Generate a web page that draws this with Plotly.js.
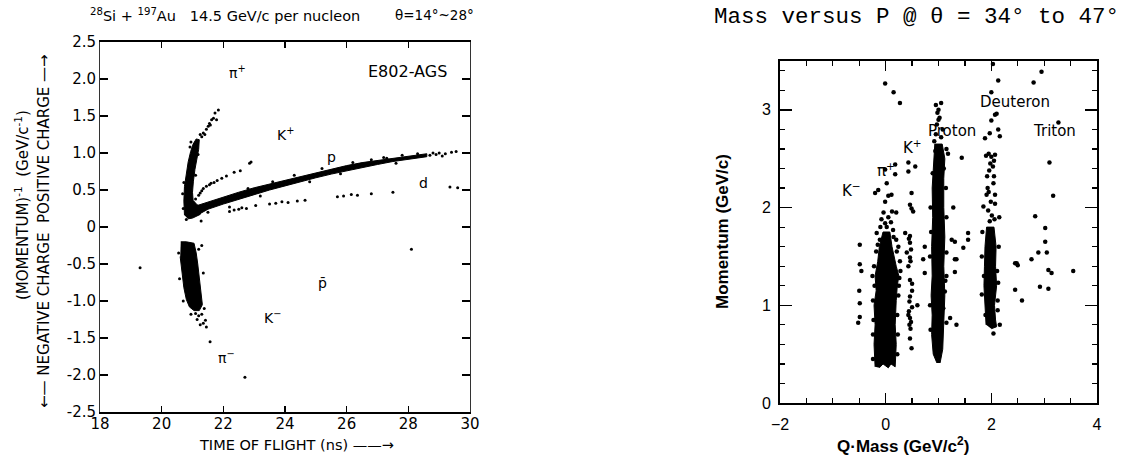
<!DOCTYPE html>
<html>
<head>
<meta charset="utf-8">
<script src="https://cdn.plot.ly/plotly-3.0.1.min.js"></script>
<style>html,body{margin:0;padding:0;background:#fff;}#chart{width:1122px;height:456px;}</style>
</head>
<body>
<div id="chart"></div>
<script>
// ---------------- LEFT PANEL DATA (time of flight vs 1/p) ----------------
const leftXTickVals = [18, 20, 22, 24, 26, 28, 30];
const leftXTickText = ["18", "20", "22", "24", "26", "28", "30"];
const leftYTickVals = [2.5, 2.0, 1.5, 1.0, 0.5, 0, -0.5, -1.0, -1.5, -2.0, -2.5];
const leftYTickText = ["2.5", "2.0", "1.5", "1.0", "0.5", "0", "-0.5", "-1.0", "-1.5", "-2.0", "-2.5"];

// dense pi+ band outline
const piPlusBandX = [20.74,20.72,20.74,20.80,20.86,20.94,21.02,21.12,21.22,21.20,21.14,21.08,21.03,21.00,21.02,21.15,21.30,21.25,21.00,20.85];
const piPlusBandY = [0.16,0.35,0.55,0.72,0.88,1.02,1.12,1.19,1.18,1.05,0.92,0.78,0.62,0.47,0.36,0.30,0.27,0.17,0.12,0.11];
// scattered pi+ points
const piPlusX = [21.30,21.35,21.45,21.51,21.55,21.62,21.68,21.73,21.78,21.84,21.40,21.25,20.95,21.58,20.70,20.72,20.68,21.10,21.18,20.92,20.80,21.28];
const piPlusY = [1.22,1.27,1.32,1.36,1.40,1.45,1.47,1.54,1.45,1.58,1.25,1.25,1.15,1.38,0.25,0.60,0.45,0.70,0.98,1.08,0.10,0.08];
// kaon+ points
const kPlusX = [21.10,21.20,21.25,21.30,21.35,21.45,21.55,21.60,21.70,21.80,21.95,22.10,22.35,22.55,22.85,22.90];
const kPlusY = [0.38,0.43,0.46,0.49,0.52,0.55,0.57,0.59,0.60,0.63,0.66,0.69,0.74,0.76,0.86,0.88];
// dense proton band outline
const protonBandX = [21.0,21.5,22.0,22.5,23.0,23.5,24.0,24.5,25.0,25.5,26.0,26.5,27.0,27.5,28.0,28.6,
                     28.6,28.0,27.5,27.0,26.5,26.0,25.5,25.0,24.5,24.0,23.5,23.0,22.5,22.0,21.5,21.2,21.0];
const protonBandY = [0.27,0.34,0.41,0.47,0.53,0.58,0.64,0.69,0.74,0.79,0.83,0.87,0.90,0.93,0.96,0.99,
                     0.95,0.92,0.885,0.845,0.805,0.765,0.715,0.665,0.615,0.555,0.50,0.44,0.38,0.31,0.24,0.17,0.14];
// sparse / edge proton points
const protonX = [26.8,27.3,27.8,28.3,28.7,28.8,28.9,29.0,29.1,29.2,29.4,29.55,21.5,22.2,22.8,23.6,24.3,25.2,26.2,27.2,23.2,24.8,25.8,27.6];
const protonY = [0.91,0.93,0.97,0.99,0.97,1.00,0.98,1.00,0.96,0.99,1.01,1.02,0.20,0.27,0.52,0.61,0.70,0.79,0.87,0.94,0.42,0.61,0.72,0.86];
// deuteron points
const deutX = [22.20,22.35,22.50,22.60,22.75,23.05,23.50,23.70,23.90,24.10,24.40,24.65,25.70,25.90,26.15,26.35,26.80,27.50,29.35,29.60];
const deutY = [0.21,0.23,0.24,0.26,0.25,0.29,0.31,0.32,0.34,0.33,0.35,0.36,0.41,0.42,0.44,0.43,0.45,0.47,0.54,0.53];
// dense pi- band outline
const piMinusBandX = [20.62,20.80,21.05,21.12,21.17,21.22,21.28,21.32,21.22,21.05,20.90,20.80,20.72,20.66,20.60];
const piMinusBandY = [-0.20,-0.20,-0.22,-0.35,-0.50,-0.70,-0.90,-1.05,-1.13,-1.13,-1.08,-0.98,-0.82,-0.60,-0.40];
// scattered negative points
const negX = [21.10,21.20,21.30,21.35,21.42,21.45,21.25,21.15,21.57,19.30,22.70,28.10,20.55,20.58,21.30,21.35,20.70,21.38,21.20,20.95];
const negY = [-1.17,-1.20,-1.18,-1.30,-1.26,-1.35,-1.32,-1.25,-1.55,-0.55,-2.03,-0.30,-0.35,-0.70,-0.25,-0.62,-1.00,-1.10,-0.30,-1.18];

const leftLabels = ["π<sup>+</sup>", "K<sup>+</sup>", "p", "d", "π<sup>−</sup>", "K<sup>−</sup>", "p\u0304"];
const leftLabelX = [22.45, 24.0, 25.5, 28.5, 22.1, 23.6, 25.2];
const leftLabelY = [2.1, 1.25, 0.95, 0.6, -1.76, -1.22, -0.76];

// ---------------- RIGHT PANEL DATA (Q*mass vs momentum) ----------------
const rightXTickVals = [-2, 0, 2, 4];
const rightYTickVals = [0, 1, 2, 3];

const piBandX = [-0.20,-0.22,-0.20,-0.22,-0.18,-0.20,-0.15,-0.12,-0.05, 0.08,0.12,0.16,0.20,0.25,0.22,0.20,0.18,0.20,0.18,0.10,0.05,-0.05,-0.12];
const piBandY = [0.37,0.60,0.80,1.00,1.15,1.30,1.45,1.60,1.75, 1.75,1.60,1.48,1.40,1.30,1.20,1.05,0.80,0.60,0.37,0.40,0.36,0.40,0.36];
const piX = [-0.01,0.15,0.27,0.18,-0.01,0.18,0.02,-0.20,-0.14,0.05,0.11,-0.01,-0.04,0.12,0.20,-0.01,0.02,-0.17,0.14,0.20,-0.11,0.00,0.05,-0.08,0.26,0.25,-0.25,-0.24,0.22,-0.24,0.22,
             -0.24,-0.23,0.23,0.24,0.28,-0.22,0.21,-0.15,0.15,-0.10,0.10,-0.18,0.24,0.27,-0.21];
const piY = [3.27,3.18,3.07,2.44,2.39,2.34,2.25,2.15,2.18,2.12,2.13,2.06,1.95,1.96,1.95,1.84,1.80,1.74,1.77,1.67,1.67,1.70,1.90,1.88,1.28,1.20,1.30,1.05,0.90,0.70,0.50,
             0.45,0.85,0.70,1.10,1.35,1.40,1.55,1.62,1.70,1.80,1.85,1.55,1.60,1.45,1.20];
const kMinusX = [-0.49,-0.49,-0.46,-0.50,-0.49,-0.49,-0.52];
const kMinusY = [1.62,1.42,1.35,1.15,1.02,0.88,0.82];
const kPlusRX = [0.43,0.56,0.43,0.49,0.46,0.52,0.49,0.37,0.46,0.46,0.40,0.46,0.74,0.71,0.74,0.46,0.50,0.43,0.47,0.48,0.44,0.46,0.45,0.43,0.46,0.48,0.45,0.47,0.46,0.49,0.50,0.44,0.50,0.60];
const kPlusRY = [2.46,2.42,2.37,2.15,2.03,1.96,1.99,1.74,1.71,1.64,1.54,1.49,1.60,1.47,1.33,1.26,1.22,1.40,1.45,1.57,1.68,1.09,1.04,0.90,0.87,0.83,0.80,0.76,0.66,0.56,0.98,0.94,1.15,1.00];
const protonBandRX = [0.97,0.90,0.87,0.88,0.86,0.88,0.87,0.89,0.88,0.90,0.93, 1.07,1.12,1.10,1.10,1.12,1.10,1.12,1.10,1.08,1.03];
const protonBandRY = [0.41,0.50,0.70,0.90,1.10,1.30,1.60,1.90,2.20,2.45,2.65, 2.65,2.50,2.30,2.00,1.70,1.40,1.10,0.80,0.55,0.41];
const protonRX = [0.95,1.05,0.98,1.02,1.00,1.15,1.18,1.44,1.28,1.25,1.31,1.47,1.56,1.56,1.31,1.15,1.34,1.31,1.15,1.12,1.09,1.15,1.34,1.22,0.85,0.84,0.84,0.85,1.15,1.14,
                  0.95,1.05,0.92,1.08,0.97,1.00,1.03,0.94,1.10,0.89,0.86,1.13];
const protonRY = [3.05,3.07,2.97,2.92,3.00,2.60,2.55,2.51,2.00,1.67,1.65,1.59,1.74,1.67,1.47,1.54,1.47,1.34,1.30,1.14,0.97,0.82,0.80,0.87,2.00,1.50,1.00,0.75,1.90,2.20,
                  2.75,2.72,2.68,2.80,2.85,2.90,2.62,2.58,2.40,2.35,1.75,1.25];
const deutBandX = [1.90,1.88,1.86,1.87,1.88,1.91, 2.05,2.09,2.08,2.10,2.06,2.08,2.10,2.00];
const deutBandY = [0.80,1.00,1.20,1.40,1.60,1.80, 1.80,1.60,1.40,1.20,1.00,0.85,0.78,0.76];
const deutRX = [2.03,2.13,2.00,2.07,2.00,2.10,2.13,2.16,1.97,1.88,1.95,2.00,2.05,1.98,2.03,1.90,2.07,1.92,2.05,1.93,2.04,1.91,2.07,2.07,1.85,1.95,2.13,1.82,2.16,2.04,1.82,2.14,2.15,1.83,2.12,
                1.97,2.01,1.94,2.06,1.99,1.89,2.11,1.86,2.12,1.96];
const deutRY = [3.47,3.30,3.18,2.95,2.89,2.96,2.80,2.73,2.76,2.71,2.55,2.52,2.48,2.45,2.42,2.53,2.54,2.32,2.32,2.20,2.25,2.13,2.13,2.04,2.01,2.16,1.23,1.11,0.80,0.71,1.50,1.60,1.90,1.75,1.05,
                1.86,1.92,1.97,1.88,2.06,0.90,1.35,1.30,0.95,2.38];
const tritonX = [2.95,2.80,3.27,3.10,3.17,2.83,3.02,3.02,2.89,3.05,2.76,2.48,2.50,3.08,3.14,3.55,2.45,2.58,2.92,3.08,2.45];
const tritonY = [3.39,3.28,2.87,2.46,2.12,1.91,1.79,1.65,1.54,1.54,1.47,1.43,1.41,1.36,1.33,1.35,1.16,1.05,1.19,1.17,1.43];

const rightLabels = ["Deuteron", "Proton", "Triton", "K<sup>+</sup>", "π<sup>+</sup>", "K<sup>−</sup>"];
const rightLabelX = [2.45, 1.25, 3.19, 0.5, 0.0, -0.64];
const rightLabelY = [3.08, 2.78, 2.78, 2.62, 2.38, 2.18];

// ---------------- BUILD ----------------
const W = 1122, H = 456;
const px = v => v / W;
const py = v => 1 - v / H;
const LF = "DejaVu Sans, Liberation Sans, sans-serif";
const RF = "Liberation Sans, Arial, sans-serif";

function band(x, y, xa, ya) {
  return {type: "scatter", mode: "lines", x: x, y: y, xaxis: xa, yaxis: ya, fill: "toself",
          fillcolor: "#000", line: {color: "#000", width: 1}, hoverinfo: "skip", showlegend: false};
}
function dots(x, y, xa, ya, size) {
  return {type: "scatter", mode: "markers", x: x, y: y, xaxis: xa, yaxis: ya,
          marker: {color: "#000", size: size}, hoverinfo: "skip", showlegend: false};
}

const traces = [
  band(piPlusBandX, piPlusBandY, "x", "y"),
  band(protonBandX, protonBandY, "x", "y"),
  band(piMinusBandX, piMinusBandY, "x", "y"),
  dots(piPlusX, piPlusY, "x", "y", 3),
  dots(kPlusX, kPlusY, "x", "y", 3),
  dots(protonX, protonY, "x", "y", 3),
  dots(deutX, deutY, "x", "y", 3),
  dots(negX, negY, "x", "y", 3),
  band(piBandX, piBandY, "x2", "y2"),
  band(protonBandRX, protonBandRY, "x2", "y2"),
  band(deutBandX, deutBandY, "x2", "y2"),
  dots(piX, piY, "x2", "y2", 4.5),
  dots(kMinusX, kMinusY, "x2", "y2", 4.5),
  dots(kPlusRX, kPlusRY, "x2", "y2", 4.5),
  dots(protonRX, protonRY, "x2", "y2", 4.5),
  dots(deutRX, deutRY, "x2", "y2", 4.5),
  dots(tritonX, tritonY, "x2", "y2", 4.5)
];

const annotations = [];
leftLabels.forEach((t, i) => annotations.push({xref: "x", yref: "y", x: leftLabelX[i], y: leftLabelY[i], text: t,
  showarrow: false, font: {family: LF, size: 14, color: "#000"}}));
annotations.push({xref: "x", yref: "y", x: 27.96, y: 2.1, text: "E802-AGS", showarrow: false,
  font: {family: LF, size: 16, color: "#000"}});
rightLabels.forEach((t, i) => annotations.push({xref: "x2", yref: "y2", x: rightLabelX[i], y: rightLabelY[i], text: t,
  showarrow: false, font: {family: LF, size: 15, color: "#000"}}));

// titles and axis titles
annotations.push({xref: "paper", yref: "paper", x: px(88), y: py(15), xanchor: "left", yanchor: "middle",
  text: "<sup>28</sup>Si + <sup>197</sup>Au\u00a0\u00a0 14.5 GeV/c per nucleon", showarrow: false,
  font: {family: LF, size: 14.5, color: "#000"}});
annotations.push({xref: "paper", yref: "paper", x: px(393), y: py(15), xanchor: "left", yanchor: "middle",
  text: "θ=14°~28°", showarrow: false, font: {family: LF, size: 13.5, color: "#000"}});
annotations.push({xref: "paper", yref: "paper", x: px(296), y: py(445), xanchor: "center", yanchor: "middle",
  text: "TIME OF FLIGHT (ns) ——→", showarrow: false, font: {family: LF, size: 14.5, color: "#000"}});
annotations.push({xref: "paper", yref: "paper", x: px(22), y: py(205), xanchor: "center", yanchor: "middle", textangle: -90,
  text: "(MOMENTUM)<sup>-1</sup>\u00a0\u00a0(GeV/c<sup>-1</sup>)", showarrow: false, font: {family: LF, size: 15, color: "#000"}});
annotations.push({xref: "paper", yref: "paper", x: px(44), y: py(231), xanchor: "center", yanchor: "middle", textangle: -90,
  text: "←— NEGATIVE CHARGE\u00a0\u00a0POSITIVE CHARGE —→", showarrow: false, font: {family: LF, size: 15, color: "#000"}});
annotations.push({xref: "paper", yref: "paper", x: px(916), y: py(17), xanchor: "center", yanchor: "middle",
  text: "Mass versus P @ θ = 34° to 47°", showarrow: false, font: {family: "Liberation Mono, Courier New, monospace", size: 22.5, color: "#000"}});
annotations.push({xref: "paper", yref: "paper", x: px(722), y: py(232), xanchor: "center", yanchor: "middle", textangle: -90,
  text: "<b>Momentum (GeV/c)</b>", showarrow: false, font: {family: RF, size: 17, color: "#000"}});
annotations.push({xref: "paper", yref: "paper", x: px(903), y: py(445), xanchor: "center", yanchor: "middle",
  text: "<b>Q·Mass (GeV/c<sup>2</sup>)</b>", showarrow: false, font: {family: RF, size: 17, color: "#000"}});

const layout = {
  width: W, height: H, margin: {l: 0, r: 0, t: 0, b: 0}, paper_bgcolor: "#fff", plot_bgcolor: "#fff",
  showlegend: false,
  xaxis: {domain: [px(100), px(470)], range: [18, 30], tickvals: leftXTickVals, ticktext: leftXTickText,
    ticks: "inside", ticklen: 6, tickwidth: 1.5, tickcolor: "#000", mirror: "ticks", showline: true, linewidth: 2, linecolor: "#000",
    ticklabelstandoff: -3,
    showgrid: false, zeroline: false, tickfont: {family: LF, size: 15, color: "#000"}, anchor: "y", fixedrange: true},
  yaxis: {domain: [py(412), py(42)], range: [-2.5, 2.5], tickvals: leftYTickVals, ticktext: leftYTickText,
    ticks: "inside", ticklen: 8, tickwidth: 1.5, tickcolor: "#000", mirror: "ticks", showline: true, linewidth: 1, linecolor: "#333",
    showgrid: false, zeroline: false, tickfont: {family: LF, size: 15, color: "#000"}, anchor: "x", fixedrange: true},
  xaxis2: {domain: [px(780), px(1097)], range: [-2, 4], tickvals: rightXTickVals,
    ticks: "inside", ticklen: 10, tickwidth: 1.5, tickcolor: "#000", mirror: "ticks", showline: true, linewidth: 2, linecolor: "#000",
    minor: {dtick: 0.5, ticks: "inside", ticklen: 5, tickcolor: "#000", tickwidth: 1.2},
    ticklabelstandoff: 6,
    showgrid: false, zeroline: false, tickfont: {family: RF, size: 16, color: "#000"}, anchor: "y2", fixedrange: true},
  yaxis2: {domain: [py(403), py(61)], range: [0, 3.5], tickvals: rightYTickVals,
    ticks: "inside", ticklen: 12, tickwidth: 1.5, tickcolor: "#000", mirror: "ticks", showline: true, linewidth: 2, linecolor: "#000",
    minor: {dtick: 0.2, ticks: "inside", ticklen: 5, tickcolor: "#000", tickwidth: 1.2},
    ticklabelstandoff: 4,
    showgrid: false, zeroline: false, tickfont: {family: RF, size: 16, color: "#000"}, anchor: "x2", fixedrange: true},
  annotations: annotations
};

Plotly.newPlot("chart", traces, layout, {staticPlot: true, displayModeBar: false});
</script>
</body>
</html>
